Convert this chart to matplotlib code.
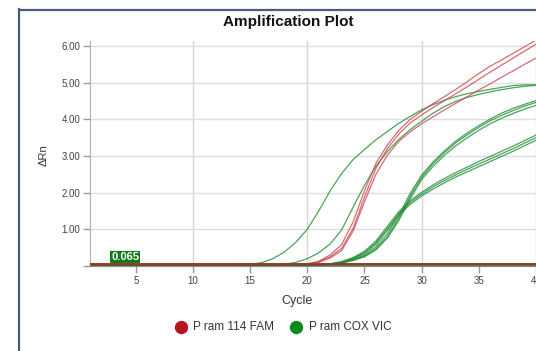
import matplotlib
matplotlib.use('Agg')
import matplotlib.pyplot as plt
from matplotlib.lines import Line2D

plt.rcParams['font.family'] = ['Liberation Sans', 'DejaVu Sans']

# ---------------- data ----------------
cycles = list(range(1, 41))

# P ram 114 FAM (red)
fam_1 = [0.03, 0.03, 0.03, 0.03, 0.03, 0.03, 0.03, 0.03, 0.03, 0.03,
         0.03, 0.03, 0.03, 0.03, 0.03, 0.03, 0.03, 0.03, 0.03, 0.06,
         0.13, 0.30, 0.58, 1.20, 2.05, 2.80, 3.30, 3.70, 4.00, 4.22,
         4.43, 4.62, 4.82, 5.03, 5.25, 5.45, 5.62, 5.80, 5.98, 6.16]
fam_2 = [0.03, 0.03, 0.03, 0.03, 0.03, 0.03, 0.03, 0.03, 0.03, 0.03,
         0.03, 0.03, 0.03, 0.03, 0.03, 0.03, 0.03, 0.03, 0.03, 0.05,
         0.11, 0.25, 0.48, 1.02, 1.88, 2.66, 3.20, 3.60, 3.90, 4.12,
         4.32, 4.51, 4.70, 4.89, 5.09, 5.29, 5.48, 5.67, 5.86, 6.05]
fam_3 = [0.03, 0.03, 0.03, 0.03, 0.03, 0.03, 0.03, 0.03, 0.03, 0.03,
         0.03, 0.03, 0.03, 0.03, 0.03, 0.03, 0.03, 0.03, 0.03, 0.05,
         0.10, 0.22, 0.42, 0.95, 1.75, 2.50, 3.02, 3.40, 3.66, 3.88,
         4.07, 4.26, 4.44, 4.62, 4.80, 4.97, 5.15, 5.32, 5.50, 5.67]

# P ram COX VIC (green)
vic_1 = [0.03, 0.03, 0.03, 0.03, 0.03, 0.03, 0.03, 0.03, 0.03, 0.03,
         0.03, 0.03, 0.03, 0.03, 0.05, 0.09, 0.20, 0.38, 0.65, 1.00,
         1.50, 2.05, 2.52, 2.90, 3.18, 3.44, 3.67, 3.89, 4.08, 4.26,
         4.40, 4.52, 4.62, 4.70, 4.76, 4.82, 4.87, 4.92, 4.94, 4.94]
vic_2 = [0.03, 0.03, 0.03, 0.03, 0.03, 0.03, 0.03, 0.03, 0.03, 0.03,
         0.03, 0.03, 0.03, 0.03, 0.03, 0.03, 0.03, 0.05, 0.10, 0.20,
         0.36, 0.60, 0.98, 1.60, 2.20, 2.72, 3.12, 3.45, 3.72, 3.95,
         4.17, 4.35, 4.49, 4.60, 4.68, 4.75, 4.81, 4.86, 4.90, 4.93]
vic_3 = [0.03, 0.03, 0.03, 0.03, 0.03, 0.03, 0.03, 0.03, 0.03, 0.03,
         0.03, 0.03, 0.03, 0.03, 0.03, 0.03, 0.03, 0.03, 0.03, 0.03,
         0.03, 0.05, 0.10, 0.18, 0.30, 0.52, 0.88, 1.38, 1.98, 2.48,
         2.84, 3.14, 3.41, 3.63, 3.83, 4.01, 4.17, 4.30, 4.41, 4.51]
vic_4 = [0.03, 0.03, 0.03, 0.03, 0.03, 0.03, 0.03, 0.03, 0.03, 0.03,
         0.03, 0.03, 0.03, 0.03, 0.03, 0.03, 0.03, 0.03, 0.03, 0.03,
         0.03, 0.05, 0.09, 0.16, 0.27, 0.47, 0.80, 1.30, 1.90, 2.42,
         2.79, 3.09, 3.36, 3.58, 3.78, 3.96, 4.11, 4.24, 4.36, 4.46]
vic_5 = [0.03, 0.03, 0.03, 0.03, 0.03, 0.03, 0.03, 0.03, 0.03, 0.03,
         0.03, 0.03, 0.03, 0.03, 0.03, 0.03, 0.03, 0.03, 0.03, 0.03,
         0.03, 0.04, 0.08, 0.15, 0.25, 0.44, 0.76, 1.24, 1.83, 2.36,
         2.72, 3.02, 3.28, 3.50, 3.70, 3.88, 4.03, 4.16, 4.28, 4.38]
vic_6 = [0.03, 0.03, 0.03, 0.03, 0.03, 0.03, 0.03, 0.03, 0.03, 0.03,
         0.03, 0.03, 0.03, 0.03, 0.03, 0.03, 0.03, 0.03, 0.03, 0.03,
         0.03, 0.06, 0.12, 0.23, 0.40, 0.68, 1.08, 1.48, 1.78, 2.01,
         2.21, 2.39, 2.55, 2.70, 2.85, 2.99, 3.13, 3.27, 3.42, 3.57]
vic_7 = [0.03, 0.03, 0.03, 0.03, 0.03, 0.03, 0.03, 0.03, 0.03, 0.03,
         0.03, 0.03, 0.03, 0.03, 0.03, 0.03, 0.03, 0.03, 0.03, 0.03,
         0.03, 0.06, 0.11, 0.21, 0.37, 0.63, 1.02, 1.43, 1.73, 1.96,
         2.16, 2.33, 2.49, 2.64, 2.78, 2.92, 3.06, 3.20, 3.35, 3.50]
vic_8 = [0.03, 0.03, 0.03, 0.03, 0.03, 0.03, 0.03, 0.03, 0.03, 0.03,
         0.03, 0.03, 0.03, 0.03, 0.03, 0.03, 0.03, 0.03, 0.03, 0.03,
         0.03, 0.05, 0.10, 0.19, 0.34, 0.59, 0.97, 1.38, 1.68, 1.91,
         2.10, 2.27, 2.43, 2.57, 2.71, 2.85, 2.99, 3.13, 3.28, 3.43]

fam_series = [fam_1, fam_2, fam_3]
vic_series = [vic_1, vic_2, vic_3, vic_4, vic_5, vic_6, vic_7, vic_8]

threshold = 0.065
threshold_label = '0.065'
x_ticks = [5, 10, 15, 20, 25, 30, 35, 40]
x_grid = [10, 20, 30, 40]
y_ticks = [0, 1, 2, 3, 4, 5, 6]
y_ticklabels = ['', '1.00', '2.00', '3.00', '4.00', '5.00', '6.00']
legend_labels = ['P ram 114 FAM', 'P ram COX VIC']

RED = '#cf4650'
GREEN = '#1f8c33'
RED_DOT = '#b5161e'
GREEN_DOT = '#0b8a20'

# ---------------- figure ----------------
W, H = 536, 351
fig = plt.figure(figsize=(W / 100, H / 100), dpi=100)
ax = fig.add_axes([90 / W, 85 / H, (536 - 90) / W, 225 / H])
ax.set_xlim(1, 40)
ax.set_ylim(0, 6.136)

for xg in x_grid:
    ax.axvline(xg, color='#d6d6d6', lw=1.0, zorder=0)
ax.yaxis.grid(True, color='#dedede', lw=1.0, zorder=0)
ax.set_axisbelow(True)

for s in vic_series:
    ax.plot(cycles, s, color=GREEN, lw=0.9, alpha=0.8, zorder=2)
for s in fam_series:
    ax.plot(cycles, s, color=RED, lw=0.9, alpha=0.8, zorder=3)

ax.axhline(threshold, color='#3d6b2a', lw=2.0, zorder=4)
ax.axhline(threshold, color='#b8262d', lw=1.1, zorder=5)

ax.text(2.84, 0.11, threshold_label, color='white', fontsize=8,
        fontweight='bold', ha='left', va='bottom', zorder=6,
        bbox=dict(boxstyle='square,pad=0.1', fc='#0f7d1c', ec='none'))

ax.set_xticks(x_ticks)
ax.set_yticks(y_ticks)
ax.set_yticklabels(y_ticklabels)
ax.tick_params(axis='both', direction='out', length=5, width=1,
               color='#9a9a9a', labelsize=7, labelcolor='#444444', pad=2)

for side in ['top', 'right']:
    ax.spines[side].set_visible(False)
ax.spines['left'].set_color('#b0b0b0')
ax.spines['bottom'].set_color('#888888')

# texts
fig.text(288 / W, 1 - 22 / H, 'Amplification Plot', ha='center', va='center',
         fontsize=11, fontweight='bold', color='#111111')
fig.text(44 / W, 1 - 155 / H, 'ΔRn', rotation=90, ha='center', va='center',
         fontsize=8, color='#333333')
fig.text(297 / W, 1 - 301 / H, 'Cycle', ha='center', va='center',
         fontsize=9, color='#333333')

# legend
for (xd, xt, col, lab) in [(181, 193, RED_DOT, legend_labels[0]),
                           (296, 309, GREEN_DOT, legend_labels[1])]:
    fig.add_artist(Line2D([xd / W], [1 - 327 / H], marker='o', markersize=8.6,
                          color=col, lw=0, transform=fig.transFigure))
    fig.text(xt / W, 1 - 327 / H, lab, ha='left', va='center',
             fontsize=8.5, color='#333333')

# outer frame (partially visible)
fig.add_artist(Line2D([18.5 / W, 18.5 / W], [0, 1 - 9 / H], color='#4d5b78',
                      lw=1.6, transform=fig.transFigure))
fig.add_artist(Line2D([18.5 / W, 1], [1 - 10 / H, 1 - 10 / H], color='#4d5b78',
                      lw=1.6, transform=fig.transFigure))

fig.savefig('out.png', dpi=100)
